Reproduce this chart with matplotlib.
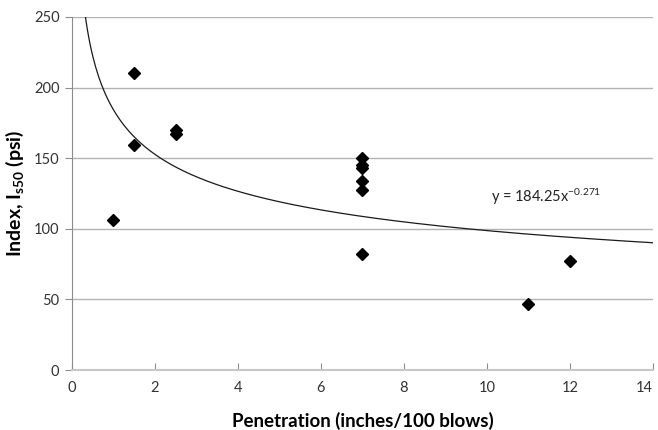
import matplotlib
matplotlib.use('Agg')
import matplotlib.pyplot as plt
import numpy as np

plt.rcParams['font.family'] = ['Lato', 'DejaVu Sans']
plt.rcParams['mathtext.default'] = 'regular'

# penetration (inches/100 blows) and point load index Is50 (psi)
penetration = [1, 1.5, 1.5, 2.5, 2.5, 7, 7, 7, 7, 7, 7, 11, 12]
index_is50 = [106, 210, 159, 170, 167, 150, 145, 143, 134, 127.5, 82, 46.5, 77]

# power trendline y = a * x^b (from the label)
coef_a = 184.25
coef_b = -0.271

fig = plt.figure(figsize=(6.58, 4.30), dpi=100)
ax = fig.add_axes([0.1094, 0.1395, 0.8830, 0.8210])

ax.set_xlim(0, 14)
ax.set_ylim(0, 250)
ax.set_xticks(np.arange(0, 15, 2))
ax.set_yticks(np.arange(0, 251, 50))
ax.yaxis.grid(True, color='#b3b3b3', linewidth=1)
ax.set_axisbelow(True)

for side in ['top', 'right']:
    ax.spines[side].set_visible(False)
ax.spines['left'].set_color('#8c8c8c')
ax.spines['bottom'].set_color('#c8c8c8')
ax.spines['bottom'].set_linewidth(1.5)
ax.tick_params(axis='y', direction='out', length=5, color='#8c8c8c', labelsize=10.5, labelcolor='#333333', pad=4)
ax.tick_params(axis='x', direction='in', length=5, color='#8c8c8c', labelsize=10.5, labelcolor='#333333', pad=8)
# keep the last x tick label inside the picture
ax.get_xticklabels()[-1].set_horizontalalignment('right')

xs = np.linspace(0.3, 14, 400)
ax.plot(xs, coef_a * xs ** coef_b, color='#1a1a1a', linewidth=0.9, zorder=2)

ax.plot(penetration, index_is50, linestyle='none', marker='D', markersize=6,
        color='black', zorder=3, clip_on=False)

ax.text(10.1, 122.5, 'y = 184.25x$^{-0.271}$', fontsize=10.5, color='#222222', ha='left', va='center')

ax.set_xlabel('Penetration (inches/100 blows)', fontsize=13.5, fontweight='bold', labelpad=12)
ax.set_ylabel('Index, I$_{s50}$ (psi)', fontsize=14, fontweight='bold', labelpad=6)

fig.savefig('out.png', dpi=100)
